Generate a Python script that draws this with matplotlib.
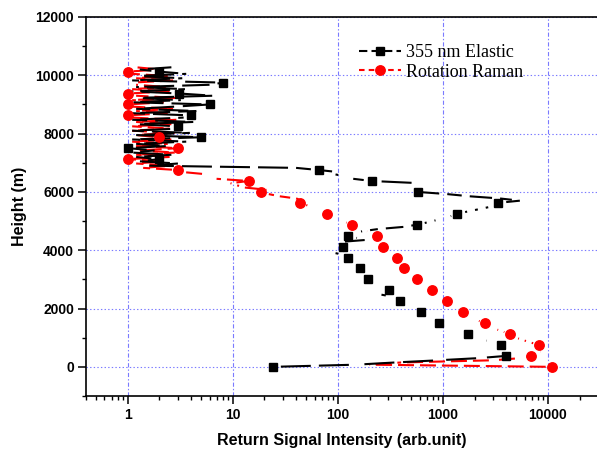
import numpy as np
import matplotlib
matplotlib.use("Agg")
import matplotlib.pyplot as plt
from matplotlib.collections import LineCollection
from matplotlib.lines import Line2D
from matplotlib.ticker import LogLocator, FixedLocator, MultipleLocator, FixedFormatter

plt.rcParams['lines.scale_dashes'] = False

# height bins of the lidar profile (m), 75 m step
height = np.arange(0, 10276, 75)

# 355 nm elastic return (arb.unit), one value per height bin
elastic = [24, 150, 350, 900, 2200,
           3980, 4300, 4100, 3900, 3700,
           3570, 3100, 2600, 2200, 1950,
           1740, 1500, 1300, 1150, 1020,
           922, 830, 760, 700, 650,
           613, 560, 500, 460, 420,
           390, 370, 340, 260, 320,
           308, 280, 250, 225, 205,
           194, 185, 175, 170, 165,
           162, 150, 140, 132, 128,
           125, 120, 95, 115, 110,
           112, 100, 98, 180, 150,
           125, 140, 170, 240, 420,
           565, 700, 850, 1000, 1200,
           1370, 1700, 2150, 2700, 3000,
           3360, 5400, 3500, 1800, 1100,
           574, 520, 480, 560, 600,
           210, 140, 120, 95, 105,
           66, 40, 1.6, 3.0, 1.3,
           2.0, 1.2, 2.6, 1.1, 1.8,
           1.0, 2.4, 1.2, 3.6, 1.1,
           5.0, 1.2, 3.9, 1.1, 3.2,
           3.0, 1.2, 4.2, 1.1, 3.4,
           4.0, 1.1, 4.5, 1.2, 2.8,
           6.0, 1.1, 3.2, 1.2, 6.5,
           3.1, 1.1, 3.5, 1.2, 6.0,
           8.1, 1.1, 3.3, 1.2, 3.6,
           2.0, 1.3, 2.6]

# rotation Raman return (arb.unit)
raman = [10840, 200, 400, 3000, 5500,
         6890, 7500, 8500, 9000, 8600,
         8200, 7000, 6000, 5200, 4700,
         4350, 3800, 3300, 3000, 2750,
         2530, 2200, 1950, 1750, 1640,
         1540, 1420, 1300, 1200, 1140,
         1084, 1000, 920, 860, 820,
         780, 720, 670, 630, 600,
         569, 530, 500, 470, 445,
         425, 410, 395, 385, 375,
         367, 340, 315, 295, 280,
         270, 260, 250, 245, 240,
         237, 215, 190, 170, 150,
         137, 120, 110, 100, 88,
         78, 70, 63, 58, 50,
         43.5, 48, 40, 28, 22,
         18.4, 21, 13, 11, 9.5,
         14.2, 7.0, 6.5, 5.8, 3.5,
         3.0, 1.4, 2.6, 1.2, 2.2,
         1.0, 2.5, 1.2, 2.8, 1.3,
         3.0, 1.2, 2.4, 1.1, 2.6,
         2.0, 1.2, 2.8, 1.1, 2.5,
         1.1, 2.6, 1.2, 2.9, 1.1,
         1.0, 2.4, 1.2, 2.7, 1.1,
         1.0, 2.2, 1.1, 2.9, 1.2,
         1.0, 2.5, 1.1, 2.3, 1.2,
         1.1, 2.7, 1.2, 2.4, 1.1,
         1.0, 2.0, 1.2]

# symbols are plotted every 5th bin (Raman symbols missing at 8250 m and 9750 m)
elastic_marks = list(range(0, 136, 5))
raman_marks = [i for i in range(0, 136, 5) if i not in (110, 130)]

fig = plt.figure(figsize=(5.97, 4.53), dpi=100)
ax = fig.add_axes([86 / 597, 1 - 396 / 453, 1 - 86 / 597, (396 - 17) / 453])

def dashed_path(x, y, color, on, off):
    # every bin-to-bin segment starts its dash pattern again, gap first
    pts = np.column_stack([x, y])
    segs = np.stack([pts[:-1], pts[1:]], axis=1)
    lc = LineCollection(segs, colors=color, linewidths=1.5,
                        linestyles=[(on, (on, off))], zorder=3)
    ax.add_collection(lc)

dashed_path(raman, height, 'red', 11.5, 4.3)
dashed_path(elastic, height, 'black', 21.6, 5.8)

ax.plot(np.array(elastic)[elastic_marks], height[elastic_marks], 's',
        color='black', ms=6, mec='black', zorder=4)
ax.plot(np.array(raman)[raman_marks], height[raman_marks], 'o',
        color='red', ms=6.8, mec='red', zorder=5)

ax.set_xscale('log')
ax.set_xlim(0.4, 29300)
ax.set_ylim(-1000, 12000)

ax.xaxis.set_major_locator(FixedLocator([1, 10, 100, 1000, 10000]))
ax.xaxis.set_major_formatter(FixedFormatter(['1', '10', '100', '1000', '10000']))
ax.xaxis.set_minor_locator(LogLocator(base=10, subs=np.arange(2, 10)))
ax.yaxis.set_major_locator(MultipleLocator(2000))
ax.yaxis.set_minor_locator(MultipleLocator(1000))

tick_font = dict(family='Liberation Sans', weight='bold', size=10)
for lab in ax.get_xticklabels() + ax.get_yticklabels():
    lab.set_fontproperties(matplotlib.font_manager.FontProperties(**tick_font))
ax.tick_params(which='major', direction='out', length=5.5, width=1.1, pad=3)
ax.tick_params(which='minor', direction='out', length=3, width=1.0)
ax.tick_params(top=False, right=False, which='both')

for side in ['left', 'bottom', 'top']:
    ax.spines[side].set_linewidth(1.2)
ax.spines['right'].set_visible(False)

ax.set_axisbelow(True)
ax.xaxis.grid(True, which='major', color='#7a7aff', linestyle=(0, (3, 1.5, 1, 1.5)), linewidth=0.8)
ax.yaxis.grid(True, which='major', color='#7a7aff', linestyle=(0, (1, 1.6)), linewidth=0.8)

ax.set_xlabel('Return Signal Intensity (arb.unit)', family='Liberation Sans',
              weight='bold', size=11.5, labelpad=8)
ax.set_ylabel('Height (m)', family='Liberation Sans', weight='bold', size=11.5, labelpad=6)

handles = [Line2D([], [], color='black', lw=1.5, ls=(0, (6, 3)), marker='s', ms=6),
           Line2D([], [], color='red', lw=1.5, ls=(0, (4, 3)), marker='o', ms=6.8)]
leg = fig.legend(handles, ['355 nm Elastic', 'Rotation Raman'],
                 loc='upper left', bbox_to_anchor=(359 / 597, 1 - 44 / 453),
                 frameon=False, borderpad=0, borderaxespad=0, handlelength=2.3,
                 handletextpad=0.3, labelspacing=0.15,
                 prop=dict(family='Liberation Serif', size=13))

fig.savefig('out.png', dpi=100)
